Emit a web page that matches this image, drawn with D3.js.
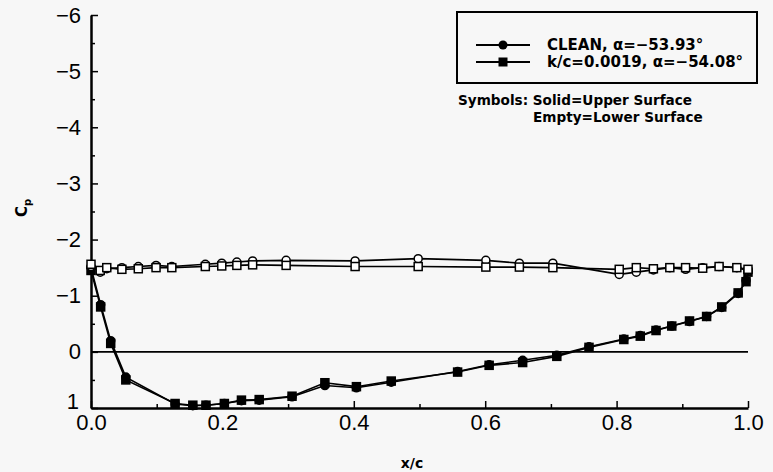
<!DOCTYPE html>
<html>
<head>
<meta charset="utf-8">
<script src="https://cdn.jsdelivr.net/npm/d3@7"></script>
<style>
  body { margin: 0; background: #f7f7f7; }
  svg { display: block; }
  text { fill: #000; }
</style>
</head>
<body>
<svg id="chart"></svg>
<script>
'use strict';

const WIDTH = 773;
const HEIGHT = 472;

// upper surface (solid symbols)
const xUpper = [0, 0.0147, 0.03, 0.053, 0.128, 0.155, 0.175, 0.203, 0.229, 0.256, 0.306, 0.356, 0.404, 0.457,
                0.558, 0.606, 0.657, 0.709, 0.758, 0.811, 0.836, 0.86, 0.884, 0.911, 0.937, 0.96, 0.985, 0.997, 1.0];
const cleanUpper = [-1.5, -0.84, -0.2, 0.45, 0.93, 0.96, 0.95, 0.92, 0.87, 0.86, 0.8, 0.6, 0.64, 0.54,
                    0.35, 0.23, 0.15, 0.06, -0.09, -0.23, -0.29, -0.39, -0.46, -0.54, -0.63, -0.79, -1.04, -1.27, -1.44];
const roughUpper = [-1.45, -0.8, -0.15, 0.5, 0.92, 0.95, 0.95, 0.92, 0.86, 0.85, 0.79, 0.55, 0.62, 0.52,
                    0.36, 0.24, 0.19, 0.08, -0.08, -0.22, -0.28, -0.38, -0.46, -0.55, -0.63, -0.8, -1.05, -1.25, -1.42];

// lower surface (empty symbols)
const xLower = [0, 0.014, 0.024, 0.047, 0.072, 0.099, 0.123, 0.174, 0.199, 0.222, 0.246, 0.297, 0.402,
                0.498, 0.601, 0.652, 0.703, 0.804, 0.83, 0.856, 0.881, 0.905, 0.931, 0.956, 0.983, 1.0];
const cleanLower = [-1.52, -1.42, -1.48, -1.5, -1.52, -1.54, -1.52, -1.56, -1.58, -1.6, -1.62, -1.63, -1.62,
                    -1.66, -1.63, -1.58, -1.58, -1.38, -1.42, -1.46, -1.5, -1.47, -1.5, -1.52, -1.5, -1.45];
const roughLower = [-1.56, -1.45, -1.5, -1.47, -1.48, -1.5, -1.5, -1.52, -1.53, -1.54, -1.55, -1.54, -1.52,
                    -1.52, -1.51, -1.51, -1.5, -1.47, -1.5, -1.48, -1.5, -1.5, -1.49, -1.52, -1.5, -1.47];

const xTicks = [0, 0.2, 0.4, 0.6, 0.8, 1.0];
const xMinor = [0.1, 0.3, 0.5, 0.7, 0.9];
const yTicks = [-6, -5, -4, -3, -2, -1, 0, 1];
const yMinor = [-5.5, -4.5, -3.5, -2.5, -1.5, -0.5, 0.5];

const legendLabels = ["CLEAN, \u03b1=\u221253.93\u00b0", "k/c=0.0019, \u03b1=\u221254.08\u00b0"];

const svg = d3.select("svg#chart").attr("width", WIDTH).attr("height", HEIGHT);

const xScale = d3.scaleLinear().domain([0, 1]).range([91, 748]);
const yScale = d3.scaleLinear().domain([-6, 1]).range([15, 408]);

const FONT = "'Liberation Sans', Arial, sans-serif";
const BOLD_FONT = "'DejaVu Sans', Verdana, sans-serif";

// axes
const xAxis = d3.axisBottom(xScale).tickValues(xTicks)
                .tickFormat(d3.format(".1f")).tickSizeInner(-7).tickSizeOuter(0).tickPadding(6);
const yAxis = d3.axisLeft(yScale).tickValues(yTicks)
                .tickFormat(d => d < 0 ? "\u2212" + Math.abs(d) : String(d))
                .tickSizeInner(-7).tickSizeOuter(0).tickPadding(10);

const gx = svg.append("g").attr("transform", "translate(0," + yScale(1) + ")").call(xAxis);
const gy = svg.append("g").attr("transform", "translate(" + xScale(0) + ",0)").call(yAxis);

svg.append("g").attr("transform", "translate(0," + yScale(1) + ")")
   .call(d3.axisBottom(xScale).tickValues(xMinor).tickFormat("").tickSizeInner(-4).tickSizeOuter(0))
   .select(".domain").remove();
svg.append("g").attr("transform", "translate(" + xScale(0) + ",0)")
   .call(d3.axisLeft(yScale).tickValues(yMinor).tickFormat("").tickSizeInner(-4).tickSizeOuter(0))
   .select(".domain").remove();

svg.selectAll(".domain").attr("stroke", "#000").attr("stroke-width", 2.5);
svg.selectAll(".tick line").attr("stroke", "#000").attr("stroke-width", 1.5);
gx.selectAll("text").attr("font-family", FONT).attr("font-size", 22).attr("fill", "#000");
gy.selectAll("text").attr("font-family", FONT).attr("font-size", 22).attr("fill", "#000");
// the "1" label sits just above the "0.0" label, as in the original
gy.selectAll(".tick").filter(d => d === 1).select("text").attr("dy", "0em").attr("x", -12);

// zero line
svg.append("line")
   .attr("x1", xScale(0)).attr("x2", xScale(1))
   .attr("y1", yScale(0)).attr("y2", yScale(0))
   .attr("stroke", "#000").attr("stroke-width", 1.8);

// axis titles
svg.append("text")
   .attr("transform", "translate(27,208) rotate(-90)")
   .attr("text-anchor", "middle")
   .attr("font-family", BOLD_FONT).attr("font-weight", "bold").attr("font-size", 15)
   .text("C")
   .append("tspan").attr("font-size", 10).attr("dy", 4).text("p");

svg.append("text")
   .attr("x", 412).attr("y", 468)
   .attr("text-anchor", "middle")
   .attr("font-family", BOLD_FONT).attr("font-weight", "bold").attr("font-size", 14)
   .text("x/c");

// series
const line = d3.line().x(d => xScale(d.x)).y(d => yScale(d.y));
const zip = (xs, ys) => xs.map((x, i) => ({ x: x, y: ys[i] }));

const series = [
    { pts: zip(xUpper, cleanUpper), shape: "circle", fill: "#000" },
    { pts: zip(xUpper, roughUpper), shape: "square", fill: "#000" },
    { pts: zip(xLower, cleanLower), shape: "circle", fill: "#fff" },
    { pts: zip(xLower, roughLower), shape: "square", fill: "#fff" }
];

series.forEach(s => {
    svg.append("path")
       .datum(s.pts)
       .attr("fill", "none")
       .attr("stroke", "#000")
       .attr("stroke-width", 1.6)
       .attr("d", line);
});

const drawMarkers = (g, pts, shape, fill) => {
    if (shape === "circle") {
        g.selectAll("circle").data(pts).enter().append("circle")
         .attr("cx", d => xScale(d.x)).attr("cy", d => yScale(d.y)).attr("r", 4)
         .attr("fill", fill).attr("stroke", "#000").attr("stroke-width", 1.5);
    } else {
        g.selectAll("rect").data(pts).enter().append("rect")
         .attr("x", d => xScale(d.x) - 4).attr("y", d => yScale(d.y) - 4)
         .attr("width", 8).attr("height", 8)
         .attr("fill", fill).attr("stroke", "#000").attr("stroke-width", 1.5);
    }
};

series.forEach(s => drawMarkers(svg.append("g"), s.pts, s.shape, s.fill));

// legend
const lg = svg.append("g");
lg.append("rect")
  .attr("x", 457).attr("y", 12).attr("width", 300).attr("height", 71)
  .attr("fill", "none").attr("stroke", "#000").attr("stroke-width", 2);

legendLabels.forEach((label, i) => {
    const ly = 45 + i * 17;
    lg.append("line").attr("x1", 476).attr("x2", 530).attr("y1", ly).attr("y2", ly)
      .attr("stroke", "#000").attr("stroke-width", 1.8);
    if (i === 0) {
        lg.append("circle").attr("cx", 503).attr("cy", ly).attr("r", 4.5).attr("fill", "#000");
    } else {
        lg.append("rect").attr("x", 498.5).attr("y", ly - 4.5).attr("width", 9).attr("height", 9).attr("fill", "#000");
    }
    lg.append("text").attr("x", 547).attr("y", ly + 5)
      .attr("font-family", BOLD_FONT).attr("font-weight", "bold").attr("font-size", 15)
      .text(label);
});

svg.append("text").attr("x", 458).attr("y", 105)
   .attr("font-family", BOLD_FONT).attr("font-weight", "bold").attr("font-size", 13.6)
   .text("Symbols: Solid=Upper Surface");
svg.append("text").attr("x", 533).attr("y", 122)
   .attr("font-family", BOLD_FONT).attr("font-weight", "bold").attr("font-size", 13.6)
   .text("Empty=Lower Surface");
</script>
</body>
</html>
